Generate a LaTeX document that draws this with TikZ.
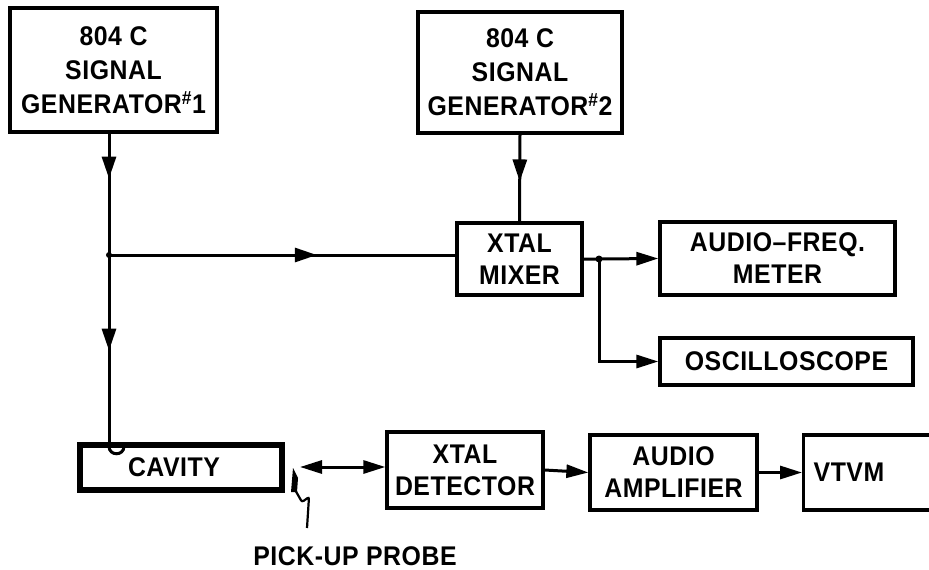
\documentclass[tikz,border=0pt]{standalone}
\usepackage{fontspec}
\setmainfont{Liberation Sans}[LetterSpace=2, FakeStretch=0.92]
\usetikzlibrary{arrows.meta,decorations.markings}
\tikzset{
    block-box/.style = {draw, line width=3.3pt, rectangle, align=center, inner sep=0pt, font=\bfseries\fontsize{27}{32}\selectfont},
    signal-line/.style = {line width=3pt},
    mid-arrow/.style = {postaction={decorate}, decoration={markings, mark=at position #1 with {\arrow{Triangle[length=22pt,width=14pt]}}}},
    end-arrow/.style = {-{Triangle[length=22pt,width=13pt]}},
}

\begin{document}
\begin{tikzpicture}[x=1pt,y=-1pt]
\useasboundingbox (0,0) rectangle (929,570);
\clip (0,0) rectangle (929,570);
% generators and mixer
\node [block-box, minimum width=207pt, minimum height=124pt, font=\bfseries\fontsize{27}{34}\selectfont] (gen1) at (113.5,70) {804 C\\SIGNAL\\GENERATOR\textsuperscript{\#}1};
\node [block-box, minimum width=204pt, minimum height=121pt, font=\bfseries\fontsize{27}{34}\selectfont] (gen2) at (520,72.5) {804 C\\SIGNAL\\GENERATOR\textsuperscript{\#}2};
\node [block-box, minimum width=125pt, minimum height=72pt] (mixer) at (519.5,259) {XTAL\\MIXER};
\node [block-box, minimum width=235pt, minimum height=73pt] (freq) at (777.5,258.5) {AUDIO--FREQ.\\METER};
\node [block-box, minimum width=253pt, minimum height=47pt] (scope) at (786.5,361.5) {OSCILLOSCOPE};
% lower chain
\node [block-box, line width=5.5pt, minimum width=202pt, minimum height=45pt] (cavity) at (181,467.5) {CAVITY\hspace*{14pt}};
\node [block-box, minimum width=156pt, minimum height=76pt] (det) at (465,470) {XTAL\\DETECTOR};
\node [block-box, minimum width=167pt, minimum height=75pt] (amp) at (673.5,472.5) {AUDIO\\AMPLIFIER};
\node [block-box, minimum height=75pt, text width=118pt, inner xsep=10pt, align=left, anchor=west] (vtvm) at (802,472.5) {VTVM};
\node [font=\bfseries\fontsize{27}{32}\selectfont] (probe-label) at (355,556) {PICK-UP PROBE};

\coordinate (j1) at (109,255);
\coordinate (j2) at (599,259);
\coordinate (inlet) at ([yshift=-4pt]cavity.north -| j1);
\coordinate (probe) at (300,467);

\draw [signal-line, mid-arrow=0.37] (gen1.south -| j1) -- (j1);
\draw [signal-line, mid-arrow=0.6] (j1) -- (mixer.west |- j1);
\draw [signal-line, mid-arrow=0.5] (j1) -- (inlet);
\draw [signal-line] (inlet) .. controls +(0,10) and +(0,10) .. ([xshift=15pt]inlet);
\fill (j1) circle (3pt);
\draw [signal-line, mid-arrow=0.54] (gen2.south) -- (mixer.north);
\draw [signal-line, end-arrow] (mixer.east) -- (j2) -- (freq.west);
\draw [signal-line, end-arrow] (j2) |- (scope.west);
\fill (j2) circle (3.5pt);
% probe
\fill (291,492) -- (293,468) -- (298,478) -- (297,492) -- cycle;
\draw [line width=2.2pt, rounded corners=2pt] (294,488) -- (302,502) -- (309,497) -- (307,528);
\draw [signal-line, {Triangle[length=22pt,width=13pt]}-{Triangle[length=22pt,width=13pt]}] (probe) -- (det.west |- probe);
\draw [signal-line, end-arrow] (det.east) -- (amp.west);
\draw [signal-line, end-arrow] (amp.east) -- (vtvm.west);
\end{tikzpicture}
\end{document}
